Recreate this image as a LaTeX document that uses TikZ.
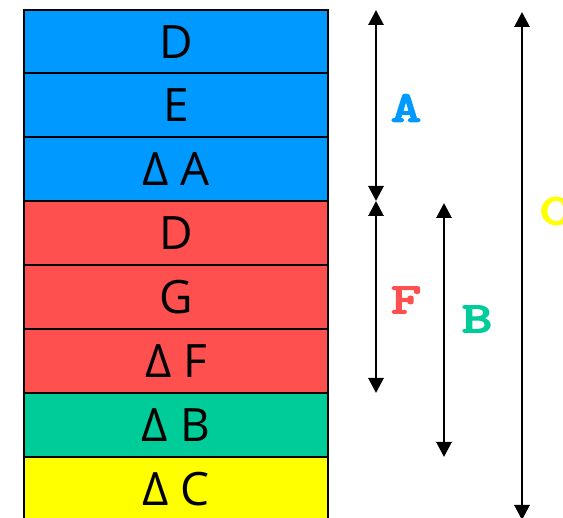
\documentclass[tikz,border=0pt]{standalone}
\usepackage{fontspec}
\usepackage{graphicx}
\setmainfont{Open Sans}
\newfontfamily\monofam[FakeBold=4]{Latin Modern Mono}
\usetikzlibrary{arrows.meta}
\definecolor{cblue}{HTML}{0099FF}
\definecolor{cred}{HTML}{FF5050}
\definecolor{cgreen}{HTML}{00CC99}
\definecolor{cyellow}{HTML}{FFFF00}
\newcommand{\widelab}[1]{\scalebox{1.35}[1]{#1}}
\tikzset{
  cell/.style={draw=black, line width=1.8pt, minimum width=304pt, minimum height=64pt, inner sep=0pt, font=\fontsize{46}{50}\selectfont},
  dimarrow/.style={line width=2.8pt, {Triangle[width=15pt,length=15pt]}-{Triangle[width=15pt,length=15pt]}},
  lab/.style={font=\monofam\fontsize{43}{46}\selectfont, inner sep=0pt}
}
\begin{document}
\begin{tikzpicture}[x=1pt,y=-1pt]
\useasboundingbox (0,0) rectangle (563,518);
\clip (0,0) rectangle (563,518);
\node[cell, fill=cblue] (r1) at (176,42) {D};
\node[cell, fill=cblue] (r2) at (176,105) {E};
\node[cell, fill=cblue] (r3) at (176,169) {Δ A};
\node[cell, fill=cred] (r4) at (176,233) {D};
\node[cell, fill=cred] (r5) at (176,297) {G};
\node[cell, fill=cred] (r6) at (176,361) {Δ F};
\node[cell, fill=cgreen] (r7) at (176,425) {Δ B};
\node[cell, fill=cyellow] (r8) at (176,489) {Δ C};
\coordinate (aT) at (376,10);
\coordinate (aB) at (376,201);
\coordinate (fT) at (376,201);
\coordinate (fB) at (376,393);
\coordinate (bT) at (444,203);
\coordinate (bB) at (444,457);
\coordinate (cT) at (522,12);
\coordinate (cB) at (522,520);
\draw[dimarrow] (aT) -- (aB);
\draw[dimarrow] (fT) -- (fB);
\draw[dimarrow] (bT) -- (bB);
\draw[dimarrow] (cT) -- (cB);
\node[lab, text=cblue] (la) at (406,108) {\widelab{A}};
\node[lab, text=cred] (lf) at (406,300) {\widelab{F}};
\node[lab, text=cgreen] (lb) at (477,319) {\widelab{B}};
\node[lab, text=cyellow] (lc) at (555,211) {\widelab{C}};
\end{tikzpicture}
\end{document}
